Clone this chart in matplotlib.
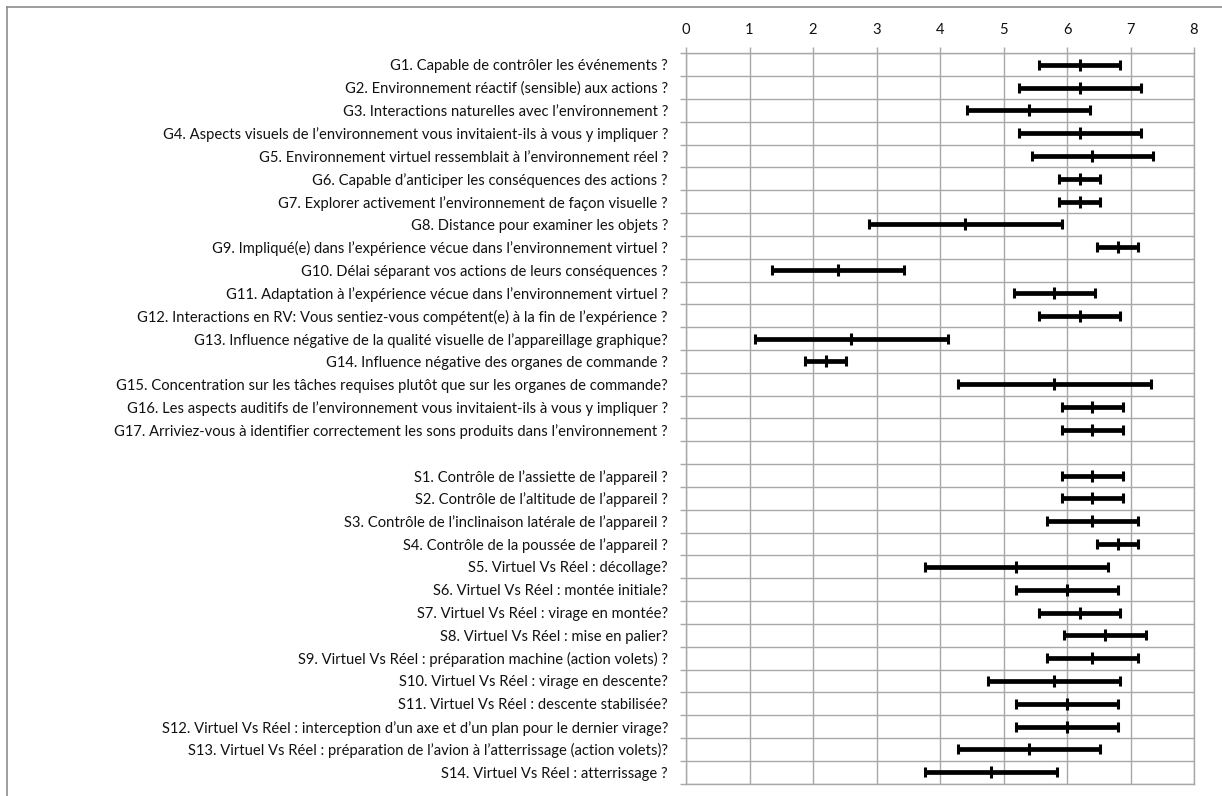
import numpy as np
import matplotlib
matplotlib.use("Agg")
import matplotlib.pyplot as plt
from matplotlib.lines import Line2D

labels = [
    "G1. Capable de contrôler les événements ?",
    "G2. Environnement réactif (sensible) aux actions ?",
    "G3. Interactions naturelles avec l’environnement ?",
    "G4. Aspects visuels de l’environnement vous invitaient-ils à vous y impliquer ?",
    "G5. Environnement virtuel ressemblait à l’environnement réel ?",
    "G6. Capable d’anticiper les conséquences des actions ?",
    "G7. Explorer activement l’environnement de façon visuelle ?",
    "G8. Distance pour examiner les objets ?",
    "G9. Impliqué(e) dans l’expérience vécue dans l’environnement virtuel ?",
    "G10. Délai séparant vos actions de leurs conséquences ?",
    "G11. Adaptation à l’expérience vécue dans l’environnement virtuel ?",
    "G12. Interactions en RV: Vous sentiez-vous compétent(e) à la fin de l’expérience ?",
    "G13. Influence négative de la qualité visuelle de l’appareillage graphique?",
    "G14. Influence négative des organes de commande ?",
    "G15. Concentration sur les tâches requises plutôt que sur les organes de commande?",
    "G16. Les aspects auditifs de l’environnement vous invitaient-ils à vous y impliquer ?",
    "G17. Arriviez-vous à identifier correctement les sons produits dans l’environnement ?",
    "",
    "S1. Contrôle de l’assiette de l’appareil ?",
    "S2. Contrôle de l’altitude de l’appareil ?",
    "S3. Contrôle de l’inclinaison latérale de l’appareil ?",
    "S4. Contrôle de la poussée de l’appareil ?",
    "S5. Virtuel Vs Réel : décollage?",
    "S6. Virtuel Vs Réel : montée initiale?",
    "S7. Virtuel Vs Réel : virage en montée?",
    "S8. Virtuel Vs Réel : mise en palier?",
    "S9. Virtuel Vs Réel : préparation machine (action volets) ?",
    "S10. Virtuel Vs Réel : virage en descente?",
    "S11. Virtuel Vs Réel : descente stabilisée?",
    "S12. Virtuel Vs Réel : interception d’un axe et d’un plan pour le dernier virage?",
    "S13. Virtuel Vs Réel : préparation de l’avion à l’atterrissage (action volets)?",
    "S14. Virtuel Vs Réel : atterrissage ?",
]

means = [6.2, 6.2, 5.4, 6.2, 6.4, 6.2, 6.2, 4.4, 6.8, 2.4, 5.8, 6.2, 2.6, 2.2, 5.8, 6.4, 6.4,
         np.nan,
         6.4, 6.4, 6.4, 6.8, 5.2, 6.0, 6.2, 6.6, 6.4, 5.8, 6.0, 6.0, 5.4, 4.8]
errors = [0.64, 0.96, 0.97, 0.96, 0.95, 0.32, 0.32, 1.52, 0.32, 1.04, 0.64, 0.64, 1.52, 0.32, 1.52, 0.48, 0.48,
          np.nan,
          0.48, 0.48, 0.72, 0.32, 1.44, 0.8, 0.64, 0.64, 0.72, 1.04, 0.8, 0.8, 1.12, 1.04]
xticks = [0, 1, 2, 3, 4, 5, 6, 7, 8]

plt.rcParams['font.family'] = ['Lato', 'DejaVu Sans']

W, H = 1222, 796
fig = plt.figure(figsize=(W / 100, H / 100), dpi=100)
ax = fig.add_axes([686 / W, 1 - 783.7 / H, (1194 - 686) / W, (783.7 - 53.3) / H])

grid_c = '#a8a8a8'
n = len(labels)
y = np.arange(n)
ax.errorbar(means, y, xerr=errors, fmt='|', color='black', ecolor='black',
            elinewidth=3.4, capsize=3.4, capthick=3.0, markersize=9.0, mew=2.2, zorder=3)

ax.set_xlim(0, 8)
ax.set_ylim(n - 0.5, -0.5)
ax.xaxis.tick_top()
ax.set_xticks(xticks)
ax.set_xticklabels([str(t) for t in xticks])
ax.set_yticks(np.arange(-0.5, n, 1.0))
ax.set_yticklabels([])
ax.set_yticks(y, minor=True)
ax.set_yticklabels(labels, minor=True)
ax.tick_params(axis='y', which='minor', length=0, pad=13, labelsize=10.6, labelcolor='#111111')
ax.tick_params(axis='y', which='major', length=4, width=1, color=grid_c, direction='out')
ax.tick_params(axis='x', which='major', length=4, width=1, color=grid_c, direction='out',
               pad=8, labelsize=10.6, labelcolor='#111111')
ax.grid(True, which='major', axis='both', color=grid_c, linewidth=1)
ax.set_axisbelow(True)
for s in ax.spines.values():
    s.set_color(grid_c)
    s.set_linewidth(1)

# chart-area frame (top and left edges)
fig.add_artist(Line2D([7 / W, 1], [1 - 7 / H, 1 - 7 / H], transform=fig.transFigure,
                      color='#8c8c8c', linewidth=1.2))
fig.add_artist(Line2D([7 / W, 7 / W], [0, 1 - 7 / H], transform=fig.transFigure,
                      color='#8c8c8c', linewidth=1.2))

fig.savefig('out.png', dpi=100, facecolor='white')
